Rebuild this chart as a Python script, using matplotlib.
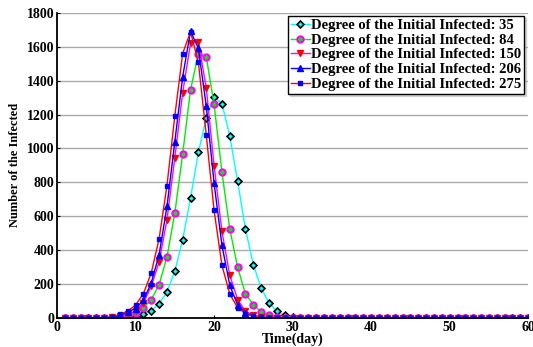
import matplotlib
matplotlib.use('Agg')
import matplotlib.pyplot as plt

days = list(range(1, 61))

deg35 = [0, 0, 0, 0, 0, 0, 1, 2, 5,
         10, 25, 43, 84, 153, 275, 461, 707, 976, 1182,
         1303, 1264, 1074, 805, 524, 314, 175, 88, 39, 15,
         6, 2, 1, 0, 0, 0, 0, 0, 0, 0,
         0, 0, 0, 0, 0, 0, 0, 0, 0, 0,
         0, 0, 0, 0, 0, 0, 0, 0, 0, 0, 0]
deg84 = [0, 0, 0, 0, 0, 0, 1, 4, 12,
         29, 59, 108, 196, 359, 618, 968, 1345, 1560, 1541,
         1260, 860, 524, 298, 141, 78, 35, 15, 6, 2,
         1, 0, 0, 0, 0, 0, 0, 0, 0, 0,
         0, 0, 0, 0, 0, 0, 0, 0, 0, 0,
         0, 0, 0, 0, 0, 0, 0, 0, 0, 0, 0]
deg150 = [0, 0, 0, 0, 0, 1, 3, 9, 20,
          39, 88, 186, 330, 579, 946, 1329, 1620, 1629, 1358,
          899, 510, 251, 108, 39, 16, 6, 2, 1, 0,
          0, 0, 0, 0, 0, 0, 0, 0, 0, 0,
          0, 0, 0, 0, 0, 0, 0, 0, 0, 0,
          0, 0, 0, 0, 0, 0, 0, 0, 0, 0, 0]
deg206 = [0, 0, 0, 0, 0, 1, 4, 12, 35,
          55, 104, 206, 373, 658, 1040, 1423, 1692, 1590, 1250,
          795, 428, 192, 75, 29, 10, 4, 1, 0, 0,
          0, 0, 0, 0, 0, 0, 0, 0, 0, 0,
          0, 0, 0, 0, 0, 0, 0, 0, 0, 0,
          0, 0, 0, 0, 0, 0, 0, 0, 0, 0, 0]
deg275 = [0, 0, 0, 0, 0, 1, 5, 20, 40,
          75, 143, 265, 467, 781, 1192, 1560, 1688, 1508, 1080,
          634, 310, 141, 59, 25, 10, 4, 1, 0, 0,
          0, 0, 0, 0, 0, 0, 0, 0, 0, 0,
          0, 0, 0, 0, 0, 0, 0, 0, 0, 0,
          0, 0, 0, 0, 0, 0, 0, 0, 0, 0, 0]

labels = ['Degree of the Initial Infected: 35',
          'Degree of the Initial Infected: 84',
          'Degree of the Initial Infected: 150',
          'Degree of the Initial Infected: 206',
          'Degree of the Initial Infected: 275']

plt.rcParams['font.family'] = 'Liberation Serif'
plt.rcParams['font.weight'] = 'bold'

fig = plt.figure(figsize=(5.33, 3.47), dpi=100)
ax = fig.add_axes([0.107, 0.084, 0.884, 0.879])

ax.plot(days, deg35, '-D', color='cyan', mfc='cyan', mec='black', ms=3.5, mew=1.2, lw=1, label=labels[0])
ax.plot(days, deg84, '-o', color='#00ee00', mfc='#00ee00', mec='magenta', ms=4.5, mew=1.5, lw=1, label=labels[1])
ax.plot(days, deg150, '-v', color='magenta', mfc='red', mec='red', ms=4.5, lw=1, label=labels[2])
ax.plot(days, deg206, '-^', color='blue', mfc='blue', mec='blue', ms=4.5, lw=1, label=labels[3])
ax.plot(days, deg275, '-s', color='red', mfc='blue', mec='blue', ms=3.5, lw=1, label=labels[4])

ax.set_xlim(0, 60)
ax.set_ylim(0, 1800)
ax.set_xticks(range(0, 61, 10))
ax.set_yticks(range(0, 1801, 200))
ax.yaxis.grid(True, color='#aaaaaa', lw=1)
ax.set_axisbelow(True)
for s in ['top', 'right']:
    ax.spines[s].set_visible(False)
for s in ['left', 'bottom']:
    ax.spines[s].set_linewidth(1.3)
ax.tick_params(direction='in', length=2, labelsize=10, pad=2)
for t in ax.get_xticklabels() + ax.get_yticklabels():
    t.set_fontweight('bold')

ax.set_xlabel('Time(day)', fontsize=10, fontweight='bold', labelpad=-1)
ax.set_ylabel('Number of the Infected', fontsize=9, fontweight='bold', labelpad=4)

leg = ax.legend(loc='upper right', bbox_to_anchor=(0.995, 0.995),
                prop={'weight': 'bold', 'size': 10.5}, handlelength=1.3, handletextpad=0.1,
                labelspacing=0.1, borderpad=0.2, borderaxespad=0.1, fancybox=False,
                framealpha=1, edgecolor='black',
                shadow={'ox': 1.5, 'oy': -1.5, 'shade': 0.3})
leg.get_frame().set_linewidth(1)

fig.savefig('out.png', dpi=100)
